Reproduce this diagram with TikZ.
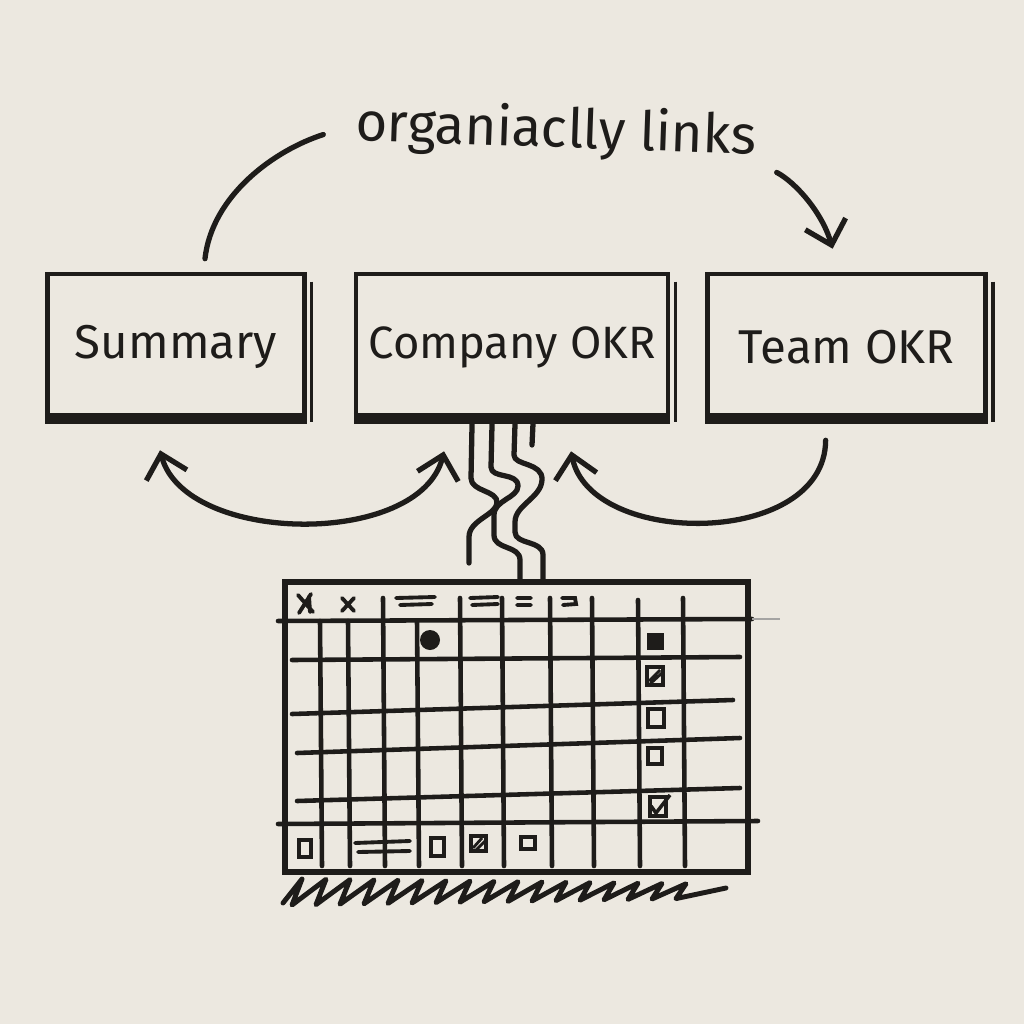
\documentclass[tikz,border=0pt]{standalone}
\usepackage{fontspec}
\setmainfont{Fira Sans}
\usetikzlibrary{arrows.meta,positioning}
\definecolor{papel}{RGB}{236,232,224}
\definecolor{tinta}{RGB}{30,28,26}
\tikzset{
  okrbox/.style={draw=tinta, line width=1.3pt, minimum width=#1, minimum height=14.6mm,
    inner sep=0pt, text=tinta, font=\fontsize{13.5}{16}\selectfont},
  trazo/.style={draw=tinta, line width=1.5pt, line cap=round, line join=round},
  rejilla/.style={draw=tinta, line width=1.3pt, line cap=round},
  punta/.tip={Straight Barb[length=2.2mm, width=4.2mm, line width=1.5pt]},
  casilla/.style={draw=tinta, line width=1.1pt},
}
\begin{document}
\begin{tikzpicture}[x=0.1mm, y=-0.1mm]
  % Fondo de papel
  \fill[papel] (0,0) rectangle (1024,1024);
  \useasboundingbox (0,0) rectangle (1024,1024);

  % Cajas
  \node[okrbox=25.7mm] (summary) at (176,347) {Summary};
  \node[okrbox=31.2mm, right=4.7mm of summary, font=\fontsize{12.9}{16}\selectfont] (company) {Company OKR};
  \node[okrbox=27.8mm, right=3.5mm of company] (team) {Team OKR};
  \foreach \c in {summary, company, team} {
    \draw[tinta, line width=3pt] ([yshift=0.4mm]\c.south west) -- ([yshift=0.4mm]\c.south east);
    \draw[tinta, line width=0.9pt] ([xshift=0.5mm, yshift=-1mm]\c.north east) -- ([xshift=0.5mm]\c.south east);
  }

  % Etiqueta de arriba
  \node[text=tinta, font=\fontsize{15.5}{18}\selectfont, rotate=-2] (enlace) at (556,132) {organiaclly links};

  % Arcos de arriba
  \draw[trazo] ([xshift=2.9mm, yshift=1.3mm]summary.north) .. controls (212,195) and (275,150) .. ([xshift=-2mm, yshift=-1mm]enlace.west);
  \draw[trazo, -punta] ([xshift=0.8mm, yshift=-3.3mm]enlace.east) .. controls (795,182) and (822,212) .. ([xshift=-1.4mm, yshift=2.3mm]team.north);

  % Arcos de abajo
  \draw[trazo, punta-punta] ([xshift=-1.6mm, yshift=-2.8mm]summary.south) .. controls (185,545) and (420,548) .. ([xshift=-6.8mm, yshift=-2.9mm]company.south);
  \draw[trazo, -punta] ([xshift=-2.1mm, yshift=-1.8mm]team.south) .. controls (825,548) and (590,548) .. ([xshift=5.9mm, yshift=-2.9mm]company.south);

  % Tabla
  \node[draw=tinta, line width=1.6pt, minimum width=46.3mm, minimum height=29mm, inner sep=0pt] (tabla) at (516.5,727) {};

  % Lineas onduladas hacia la tabla
  \draw[trazo] ([xshift=-4mm]company.south) -- (471,478) .. controls (471,492) and (498,490) .. (497,503)
    .. controls (496,515) and (469,520) .. (469,537) -- (469,563);
  \draw[trazo] ([xshift=-2mm]company.south) -- (491,467) .. controls (491,479) and (518,472) .. (518,486)
    .. controls (518,498) and (494,500) .. (494,515) -- (494,535) .. controls (494,550) and (520,545) .. (520,560)
    -- ([xshift=0.35mm]tabla.north);
  \draw[trazo] ([xshift=0.3mm]company.south) -- (514,455) .. controls (514,466) and (543,462) .. (542,480)
    .. controls (541,498) and (515,505) .. (515,522) -- (515,532) .. controls (515,545) and (543,540) .. (543,555)
    -- ([xshift=2.65mm]tabla.north);
  \draw[trazo] ([xshift=2.1mm]company.south) -- (532,445);

  % Rejilla
  \draw[rejilla] (278,621) -- (752,619);
  \draw[tinta!40, line width=0.5pt] (752,619) -- (780,619);
  \draw[rejilla] (292,660) -- (740,657);
  \draw[rejilla] (292,714) -- (733,700);
  \draw[rejilla] (297,753) -- (740,738);
  \draw[rejilla] (297,801) -- (740,788);
  \draw[rejilla] (278,824) -- (758,821);
  \foreach \x/\t in {320/621, 348/621, 383/598, 417/621, 460/598, 502/598, 550/598, 592/598, 638/600, 683/598}
    \draw[rejilla] (\x,\t) -- (\x+2,866);

  % Cabecera
  \draw[rejilla, line width=1.1pt] (298,595) -- (313,612) (311,594) -- (299,613) (309,596) -- (310,612);
  \draw[rejilla, line width=1.1pt] (342,598) -- (354,611) (354,598) -- (342,611);
  \draw[rejilla, line width=1.1pt] (396,598) -- (435,597) (400,605) -- (432,604)
    (470,598) -- (498,597) (472,605) -- (498,604)
    (517,598) -- (531,598) (517,605) -- (531,605)
    (562,598) -- (575,598) -- (576,604) -- (563,605);

  % Marcas
  \fill[tinta] (430,640) circle (10);
  \fill[tinta] (647,633) rectangle (664,650);
  \draw[casilla] (647,667) rectangle (663,685);
  \draw[tinta, line width=0.8pt] (649,681) -- (660,670) (650,684) -- (662,673);
  \draw[casilla] (648,709) rectangle (664,727);
  \draw[casilla] (648,748) rectangle (662,764);
  \draw[casilla] (650,797) rectangle (666,816);
  \draw[tinta, line width=1pt] (651,806) -- (656,813) -- (670,795);
  \draw[casilla] (299,840) rectangle (311,857);
  \draw[rejilla, line width=1.1pt] (355,843) -- (410,841) (358,852) -- (410,851);
  \draw[casilla] (431,838) rectangle (444,856);
  \draw[casilla] (471,836) rectangle (486,851);
  \draw[tinta, line width=0.8pt] (473,848) -- (482,838) (476,850) -- (485,841);
  \draw[casilla] (521,837) rectangle (535,849);

  % Garabato debajo
  \draw[trazo, line width=1.4pt] (283,903) \foreach \i in {0,...,16} { -- ({302+24*\i},{879+0.3*\i}) -- ({292+24*\i},{905-0.4*\i}) } -- (726,888);
\end{tikzpicture}
\end{document}
